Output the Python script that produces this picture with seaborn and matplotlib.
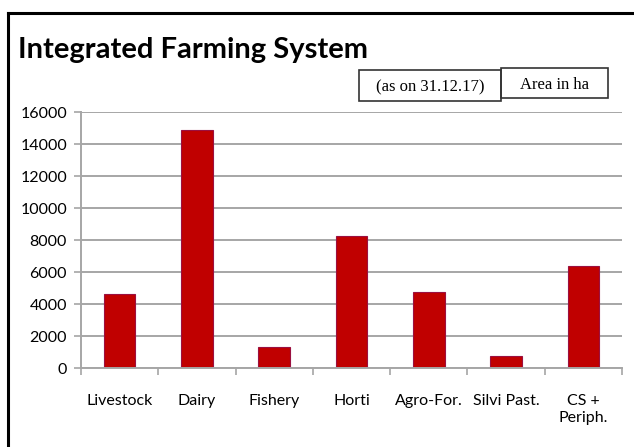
import matplotlib
matplotlib.use("Agg")
import matplotlib.pyplot as plt
import seaborn as sns
import pandas as pd
from matplotlib.patches import Rectangle
from matplotlib.lines import Line2D

categories = ['Livestock', 'Dairy', 'Fishery', 'Horti', 'Agro-For.', 'Silvi Past.', 'CS +\nPeriph.']
area_ha = [4650, 14870, 1330, 8250, 4750, 770, 6400]
y_ticks = [0, 2000, 4000, 6000, 8000, 10000, 12000, 14000, 16000]

df = pd.DataFrame({'System': categories, 'Area': area_ha})

sns.set_style("white")
plt.rcParams['font.family'] = ['Lato', 'DejaVu Sans']
plt.rcParams['text.color'] = 'black'

W, H = 634, 447
fig = plt.figure(figsize=(6.34, 4.47), dpi=100)
ax = fig.add_axes([81 / W, 1 - 368 / H, 541 / W, 256 / H])

sns.barplot(data=df, x='System', y='Area', color='#C00000', width=0.41,
            edgecolor='#9b1040', linewidth=0.8, saturation=1, ax=ax)

ax.set_xlim(-0.5, 6.5)
ax.set_ylim(0, 16000)
ax.set_yticks(y_ticks)
ax.set_xlabel('')
ax.set_ylabel('')
ax.yaxis.grid(True, color='#a6a6a6', linewidth=1.4)
ax.set_axisbelow(True)
for s in ['top', 'right']:
    ax.spines[s].set_visible(False)
for s in ['left', 'bottom']:
    ax.spines[s].set_color('#a6a6a6')
    ax.spines[s].set_linewidth(1.4)

ax.tick_params(axis='y', left=True, length=5, width=1.2, color='#a6a6a6',
               labelcolor='black', pad=5, labelsize=11.5)
ax.tick_params(axis='x', which='major', length=0, pad=19, labelsize=11.5,
               labelcolor='black')
ax.set_xticks([i - 0.5 for i in range(len(categories) + 1)], minor=True)
ax.tick_params(axis='x', which='minor', bottom=True, length=5, width=1.2, color='#a6a6a6')
for lab in ax.get_xticklabels():
    lab.set_verticalalignment('top')

# outer frame (top and left edges only visible)
fig.lines.append(Line2D([8 / W, 8 / W], [0, 1 - 12.5 / H], transform=fig.transFigure,
                        color='black', linewidth=2.2, solid_capstyle='projecting'))
fig.lines.append(Line2D([8 / W, 1], [1 - 12.5 / H, 1 - 12.5 / H], transform=fig.transFigure,
                        color='black', linewidth=2.2, solid_capstyle='projecting'))

fig.text(18 / W, 1 - 58 / H, 'Integrated Farming System', fontsize=21,
         fontweight='bold', ha='left', va='baseline', color='black')

serif = ['Liberation Serif', 'DejaVu Serif']
fig.text(430 / W, 1 - 87 / H, '(as on 31.12.17)', fontsize=12, family=serif,
         ha='center', va='center')
fig.text(554 / W, 1 - 85 / H, 'Area in ha', fontsize=12, family=serif,
         ha='center', va='center')
fig.patches.append(Rectangle((359 / W, 1 - 101 / H), 142 / W, 31 / H,
                             transform=fig.transFigure, fill=False,
                             edgecolor='#333333', linewidth=1.2))
fig.patches.append(Rectangle((501 / W, 1 - 98 / H), 107 / W, 30 / H,
                             transform=fig.transFigure, fill=False,
                             edgecolor='#333333', linewidth=1.2))

fig.savefig('out.png', dpi=100)
